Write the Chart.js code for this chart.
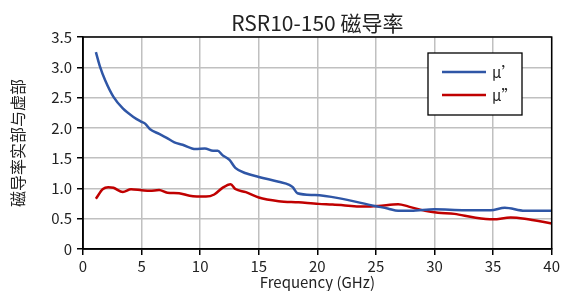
<!DOCTYPE html>
<html><head><meta charset="utf-8">
<script src="https://cdn.jsdelivr.net/npm/chart.js@4/dist/chart.umd.min.js"></script>
<style>html,body{margin:0;padding:0;background:#fff}#wrap{width:562px;height:291px}</style>
</head><body><div id="wrap"><canvas id="c" width="562" height="291"></canvas></div>
<script>
const chartTitle = "RSR10-150 磁导率";
const xAxisTitle = "Frequency (GHz)";
const yAxisTitle = "磁导率实部与虚部";
const seriesLabels = ["μ’", "μ”"];
const xTicks = [0,5,10,15,20,25,30,35,40];
const yTicks = [0,0.5,1.0,1.5,2.0,2.5,3.0,3.5];

const muRealFreq = [1.1,1.45,1.9,2.6,3.4,4.3,5.0,5.3,5.7,6.5,7.1,7.8,8.5,9.6,10.4,11.1,11.5,11.9,12.5,13.0,13.9,15.0,16.7,17.6,17.9,18.3,19.8,21.8,24.9,26.0,26.9,28.0,30.0,32.6,34.8,36.0,37.7,40.0];
const muReal     = [3.25,3.01,2.78,2.51,2.32,2.18,2.10,2.07,1.98,1.90,1.84,1.76,1.72,1.65,1.66,1.62,1.62,1.55,1.47,1.34,1.25,1.19,1.11,1.06,1.02,0.92,0.89,0.84,0.71,0.67,0.63,0.63,0.655,0.64,0.64,0.68,0.63,0.63];

const muImagFreq = [1.1,1.7,2.15,2.6,3.4,4.1,5.0,5.7,6.5,7.2,8.2,9.1,10.5,11.2,11.9,12.6,13.0,13.9,15.0,16.7,18.4,20.1,21.3,24.1,25.2,26.9,27.8,29.2,30.3,31.7,33.4,35.0,36.5,37.7,40.0];
const muImag     = [0.83,0.99,1.02,1.01,0.94,0.985,0.97,0.96,0.975,0.93,0.92,0.88,0.865,0.90,1.01,1.07,0.99,0.94,0.85,0.79,0.77,0.745,0.735,0.70,0.71,0.74,0.70,0.63,0.60,0.58,0.52,0.49,0.52,0.50,0.42];

const seriesColors = ["#2F56A6", "#C00000"];
const textColor = "#222";
const FONT = "'Noto Sans CJK SC','Noto Sans',sans-serif";

const toPts = (xs, ys) => xs.map((x,i)=>({x:x, y:ys[i]}));

const framePlugin = {
  id:'frame',
  afterDraw(chart){
    const {ctx, chartArea:a} = chart;
    ctx.save();
    ctx.strokeStyle = '#000'; ctx.lineWidth = 1.5;
    ctx.strokeRect(a.left, a.top, a.right-a.left, a.bottom-a.top);
    // title
    ctx.fillStyle = textColor;
    ctx.font = "21px " + FONT;
    ctx.textAlign = 'center'; ctx.textBaseline = 'middle';
    ctx.fillText(chartTitle, (a.left+a.right)/2, 23);
    // legend box
    const bx = 428, by = 53, bw = 94, bh = 62;
    ctx.fillStyle = '#fff';
    ctx.fillRect(bx, by, bw, bh);
    ctx.strokeStyle = '#000'; ctx.lineWidth = 1.3;
    ctx.strokeRect(bx, by, bw, bh);
    chart.data.datasets.forEach((ds,i)=>{
      const y = by + 19 + i*23;
      ctx.strokeStyle = ds.borderColor; ctx.lineWidth = 2.5;
      ctx.beginPath(); ctx.moveTo(bx+14, y); ctx.lineTo(bx+58, y); ctx.stroke();
      ctx.fillStyle = textColor; ctx.font = "15px " + FONT;
      ctx.textAlign = 'left'; ctx.textBaseline = 'middle';
      ctx.fillText(ds.label, bx+64, y);
    });
    ctx.restore();
  }
};

new Chart(document.getElementById('c'), {
  type:'line',
  data:{datasets:[
    {label:seriesLabels[0], data:toPts(muRealFreq, muReal), borderColor:seriesColors[0], borderWidth:2.5, pointRadius:0, tension:0.35, cubicInterpolationMode:'monotone'},
    {label:seriesLabels[1], data:toPts(muImagFreq, muImag), borderColor:seriesColors[1], borderWidth:2.5, pointRadius:0, tension:0.35, cubicInterpolationMode:'monotone'}
  ]},
  options:{
    responsive:false, animation:false,
    layout:{padding:{left:0, top:37, right:8, bottom:0}},
    plugins:{legend:{display:false}, title:{display:false}, tooltip:{enabled:false}},
    scales:{
      x:{type:'linear', min:0, max:40,
        afterFit(s){ s.height = 42; },
        afterBuildTicks(s){ s.ticks = xTicks.map(v=>({value:v})); },
        grid:{color:'#c0c0c0', lineWidth:1.5, tickColor:'#000', tickLength:6, tickWidth:1.5},
        border:{color:'#000', width:1.5},
        ticks:{color:textColor, font:{family:FONT, size:15}, padding:2, maxRotation:0, autoSkip:false},
        title:{display:true, text:xAxisTitle, color:textColor, font:{family:FONT, size:15}, padding:{top:0,bottom:0}}
      },
      y:{type:'linear', min:0, max:3.5,
        afterFit(s){ s.width = 83; },
        afterBuildTicks(s){ s.ticks = yTicks.map(v=>({value:v})); },
        grid:{color:'#c0c0c0', lineWidth:1.5, tickColor:'#000', tickLength:6, tickWidth:1.5},
        border:{color:'#000', width:1.5},
        ticks:{color:textColor, font:{family:FONT, size:15}, padding:5, autoSkip:false,
          callback:v => v===0 ? '0' : v.toFixed(1)},
        title:{display:true, text:yAxisTitle, color:textColor, font:{family:FONT, size:16}, padding:{top:8,bottom:0}}
      }
    }
  },
  plugins:[framePlugin]
});
</script></body></html>
